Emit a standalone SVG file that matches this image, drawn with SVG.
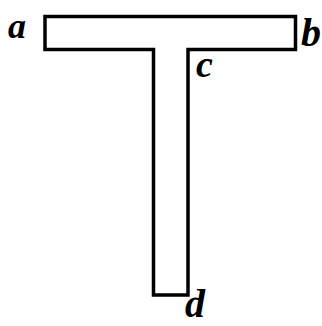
<svg xmlns="http://www.w3.org/2000/svg" width="322" height="326" viewBox="0 0 322 326">
<style>
.o{fill:none;stroke:#000;stroke-width:3.5;stroke-linejoin:miter}
.t{font-family:"Liberation Serif","DejaVu Serif",serif;font-style:italic;font-weight:bold;fill:#000}
</style>
<rect width="322" height="326" fill="#fff"/>
<g id="tshape">
<path class="o" d="M45,16.5 H295.5 V49.5 H188 V295 H153.5 V49.5 H45 Z"/>
</g>
<g id="labels">
<text class="t" x="8" y="38" font-size="36">a</text>
<text class="t" x="301" y="46" font-size="40">b</text>
<text class="t" x="196" y="77" font-size="38">c</text>
<text class="t" x="185" y="317" font-size="40">d</text>
</g>
</svg>
